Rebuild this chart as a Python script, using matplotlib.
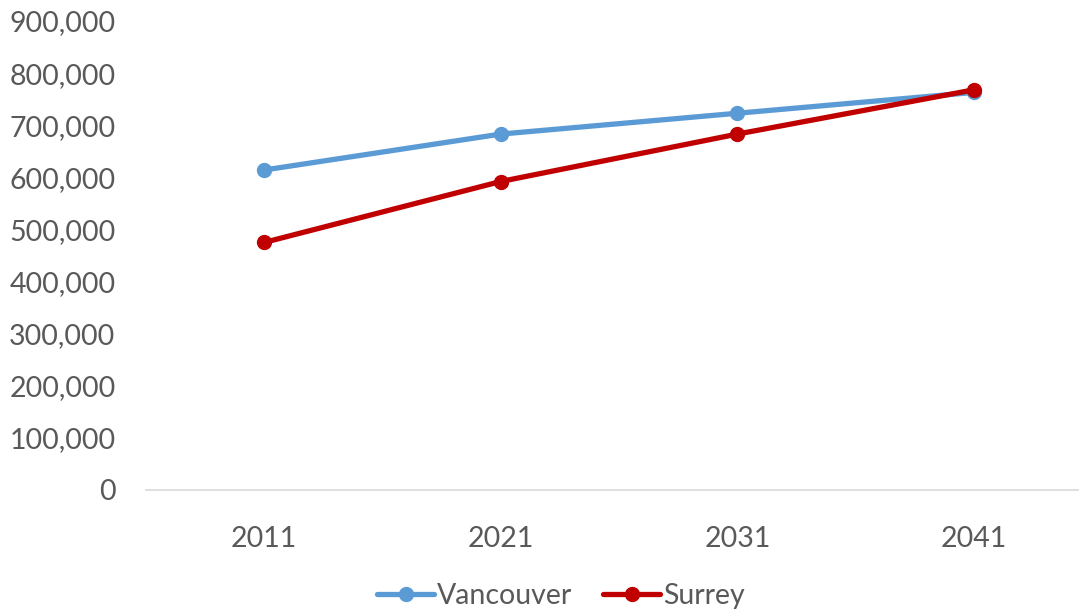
import matplotlib
matplotlib.use("Agg")
import matplotlib.pyplot as plt
from matplotlib.ticker import FuncFormatter

years = ["2011", "2021", "2031", "2041"]
vancouver = [614000, 683000, 723000, 763000]
surrey = [475000, 592000, 683000, 768000]

plt.rcParams['font.family'] = ['Lato', 'DejaVu Sans']

W, H = 1080, 610
fig = plt.figure(figsize=(W / 100, H / 100), dpi=100)
left, right, top, bottom = 146, 1078, 21, 490
ax = fig.add_axes([left / W, 1 - bottom / H, (right - left) / W, (bottom - top) / H])

x = list(range(len(years)))
ax.plot(x, vancouver, color="#5B9BD5", lw=3.8, marker="o", ms=10, label="Vancouver", solid_capstyle="round")
ax.plot(x, surrey, color="#C00000", lw=3.8, marker="o", ms=10, label="Surrey", solid_capstyle="round")

ax.set_xlim((146 - 264) / 236.67, (1078 - 264) / 236.67)
ax.set_ylim(0, 900000)
ax.set_yticks(range(0, 900001, 100000))
ax.yaxis.set_major_formatter(FuncFormatter(lambda v, p: f"{int(v):,}"))
ax.set_xticks(x)
ax.set_xticklabels(years)

for s in ["top", "right", "left"]:
    ax.spines[s].set_visible(False)
ax.spines["bottom"].set_color("#D9D9D9")
ax.spines["bottom"].set_linewidth(1.2)
ax.tick_params(axis="both", length=0, labelsize=20.5, labelcolor="#595959")
ax.tick_params(axis="y", pad=22)
ax.tick_params(axis="x", pad=26)

leg = fig.legend(loc="center", bbox_to_anchor=(561 / W, 1 - 596 / H), ncol=2, frameon=False,
                 fontsize=20.5, labelcolor="#595959", handlelength=2.0, handletextpad=0.1,
                 columnspacing=1.1, borderaxespad=0)

fig.savefig("out.png", dpi=100)
